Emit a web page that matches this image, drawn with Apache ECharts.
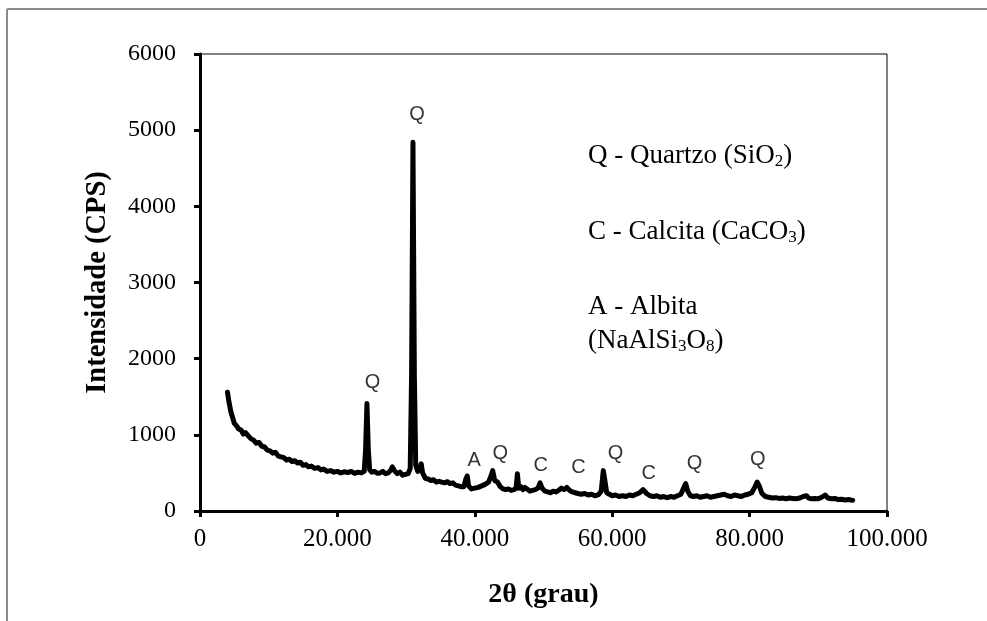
<!DOCTYPE html>
<html>
<head>
<meta charset="utf-8">
<script src="https://cdn.jsdelivr.net/npm/echarts@6/dist/echarts.min.js"></script>
<style>
html,body{margin:0;padding:0;background:#fff;}
#chart{width:987px;height:621px;}
</style>
</head>
<body>
<div id="chart"></div>
<script>
// ---- data ----
const twoTheta = [
4.0,4.2,4.5,4.8,5.0,5.3,5.6,6.0,6.3,6.6,7.0,7.4,7.8,8.2,8.6,9.0,9.4,9.8,10.2,10.6,
11.0,11.4,11.8,12.2,12.6,13.0,13.4,13.8,14.2,14.6,15.0,15.4,15.8,16.2,16.7,17.2,17.6,18.0,18.5,19.0,
19.5,20.0,20.5,21.0,21.5,22.0,22.5,23.0,23.5,23.9,24.1,24.3,24.5,24.7,25.0,25.4,25.8,26.2,26.6,27.0,
27.4,27.8,28.0,28.3,28.7,29.1,29.5,29.9,30.3,30.6,30.8,31.0,31.2,31.4,31.7,32.0,32.2,32.4,32.8,33.2,
33.6,34.0,34.4,34.8,35.2,35.6,36.0,36.4,36.8,37.2,37.6,38.0,38.4,38.7,38.9,39.1,39.5,40.0,40.5,41.0,
41.5,42.0,42.4,42.6,42.9,43.3,43.7,44.1,44.5,44.9,45.3,45.7,46.0,46.2,46.4,46.7,47.0,47.3,47.6,48.0,
48.4,48.8,49.2,49.5,49.8,50.2,50.6,51.0,51.4,51.8,52.2,52.6,53.0,53.4,53.8,54.2,54.6,55.0,55.5,56.0,
56.5,57.0,57.5,58.0,58.4,58.7,58.9,59.2,59.6,60.0,60.5,61.0,61.5,62.0,62.5,63.0,63.5,64.0,64.5,65.0,
65.5,66.0,66.5,67.0,67.5,68.0,68.5,69.0,69.5,70.0,70.4,70.7,71.0,71.4,71.8,72.3,72.8,73.3,73.8,74.3,
74.8,75.3,75.8,76.3,76.8,77.3,77.8,78.3,78.8,79.3,79.8,80.3,80.8,81.1,81.4,81.8,82.3,82.8,83.3,83.8,
84.3,84.8,85.3,85.8,86.3,86.8,87.3,87.8,88.3,88.6,89.0,89.5,90.0,90.5,91.0,91.4,91.9,92.4,92.9,93.4,
93.9,94.4,95.0
];
const intensity = [
1560,1440,1300,1210,1150,1120,1080,1060,1010,1030,990,950,930,890,900,850,840,800,790,760,
770,720,710,700,670,680,650,660,630,640,600,610,580,590,560,570,540,550,520,530,
510,520,500,515,505,520,495,510,500,520,800,1410,800,540,510,520,495,500,520,490,
500,540,580,530,490,510,470,480,490,560,1800,4840,1800,600,520,560,620,500,430,420,
400,410,380,390,380,370,385,360,370,340,330,320,320,420,460,330,290,300,310,330,
350,380,470,530,400,380,320,290,280,290,270,280,300,490,300,320,280,310,290,260,
270,280,300,370,300,260,250,240,260,250,270,300,280,310,270,250,240,230,220,230,
210,220,200,215,260,530,420,240,220,200,210,190,200,190,210,200,220,240,280,230,
200,190,200,180,190,175,190,180,200,220,300,360,260,200,190,200,180,190,200,180,
190,200,210,220,200,190,210,200,190,210,220,240,320,380,330,230,190,180,170,175,
165,170,160,170,165,160,170,190,200,170,160,165,160,180,210,170,160,165,150,155,
145,150,140
];
// peak annotations: 2θ, intensity (label centre), phase letter
const annotX = [31.6, 25.1, 39.9, 43.7, 49.6, 55.1, 60.5, 65.3, 72.0, 81.2];
const annotY = [5200, 1690, 668, 760, 603, 576, 760, 498, 629, 681];
const annotText = ['Q','Q','A','Q','C','C','Q','C','Q','Q'];
const xTickLabels = ['0','20.000','40.000','60.000','80.000','100.000'];
const yTickLabels = ['0','1000','2000','3000','4000','5000','6000'];

const lineData = twoTheta.map((x,i)=>[x,intensity[i]]);
const annotData = annotX.map((x,i)=>[x,annotY[i],annotText[i]]);

const chart = echarts.init(document.getElementById('chart'), null, {renderer:'canvas'});
const serif = '"Liberation Serif","Times New Roman",serif';
const sans = '"Liberation Sans",Arial,sans-serif';

chart.setOption({
  animation:false,
  backgroundColor:'#fff',
  grid:{left:200,right:100,top:54,bottom:110,show:true,borderColor:'#000',borderWidth:1,backgroundColor:'transparent'},
  xAxis:{
    type:'value',min:0,max:100,interval:20,
    name:'2θ (grau)',nameLocation:'middle',nameGap:70,
    nameTextStyle:{fontFamily:serif,fontWeight:'bold',fontSize:28,color:'#000'},
    axisLine:{show:true,onZero:false,lineStyle:{color:'#000',width:3}},
    axisTick:{show:true,inside:false,length:6,lineStyle:{color:'#000',width:3}},
    splitLine:{show:false},
    axisLabel:{fontFamily:serif,fontSize:25,color:'#000',margin:16,
      formatter:(v)=>xTickLabels[Math.round(v/20)]}
  },
  yAxis:{
    type:'value',min:0,max:6000,interval:1000,
    name:'Intensidade (CPS)',nameLocation:'middle',nameGap:88,nameRotate:90,
    nameTextStyle:{fontFamily:serif,fontWeight:'bold',fontSize:28.5,color:'#000'},
    axisLine:{show:true,onZero:false,lineStyle:{color:'#000',width:3}},
    axisTick:{show:true,inside:false,length:6,lineStyle:{color:'#000',width:3}},
    splitLine:{show:false},
    axisLabel:{fontFamily:serif,fontSize:24,color:'#000',margin:24,
      formatter:(v)=>yTickLabels[Math.round(v/1000)]}
  },
  series:[
    {type:'line',data:lineData,showSymbol:false,symbol:'none',
     lineStyle:{color:'#000',width:5,join:'round',cap:'round'},silent:true,z:3},
    {type:'scatter',data:annotData,symbolSize:1,itemStyle:{color:'rgba(0,0,0,0)'},silent:true,z:4,
     label:{show:true,position:'inside',formatter:(p)=>p.data[2],
       fontFamily:sans,fontSize:20,color:'#000'}}
  ],
  graphic:[
    {type:'line',shape:{x1:7,y1:9,x2:987,y2:9},style:{stroke:'#8c8c8c',lineWidth:2},silent:true},
    {type:'line',shape:{x1:7,y1:9,x2:7,y2:621},style:{stroke:'#8c8c8c',lineWidth:2},silent:true},
    {type:'text',left:588,top:141,silent:true,style:{
      text:'{n|Q - Quartzo (SiO}{s|2}{n|)}',
      rich:{n:{fontFamily:serif,fontSize:27,color:'#000',lineHeight:30},
            s:{fontFamily:serif,fontSize:17,color:'#000',lineHeight:30,padding:[12,0,0,0]}}}},
    {type:'text',left:588,top:217,silent:true,style:{
      text:'{n|C - Calcita (CaCO}{s|3}{n|)}',
      rich:{n:{fontFamily:serif,fontSize:27,color:'#000',lineHeight:30},
            s:{fontFamily:serif,fontSize:17,color:'#000',lineHeight:30,padding:[12,0,0,0]}}}},
    {type:'text',left:588,top:293,silent:true,style:{
      text:'{n|A - Albita}',
      rich:{n:{fontFamily:serif,fontSize:27,color:'#000',lineHeight:30}}}},
    {type:'text',left:588,top:326,silent:true,style:{
      text:'{n|(NaAlSi}{s|3}{n|O}{s|8}{n|)}',
      rich:{n:{fontFamily:serif,fontSize:27,color:'#000',lineHeight:30},
            s:{fontFamily:serif,fontSize:17,color:'#000',lineHeight:30,padding:[12,0,0,0]}}}}
  ]
});
</script>
</body>
</html>
